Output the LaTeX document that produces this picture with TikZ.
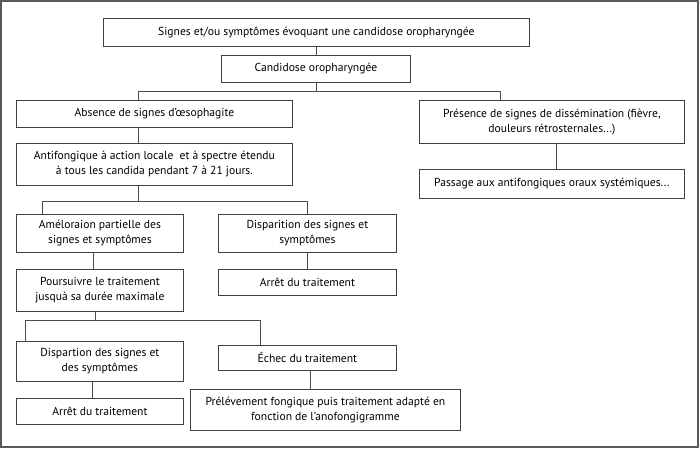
\documentclass[tikz,border=0pt]{standalone}
\usepackage{fontspec}
\setmainfont{PT Sans}
\begin{document}
\begin{tikzpicture}[x=1pt,y=-1pt,
  box/.style={draw=black!75, line width=0.8pt, inner sep=0pt, align=center, anchor=north west, font=\fontsize{11.6}{15}\selectfont},
  link/.style={draw=black!70, line width=0.8pt}]
\useasboundingbox (0,0) rectangle (700,449);
\draw[draw=black!65, line width=1.6pt] (1,1) rectangle (698,447);
\newcommand{\bx}[6]{\node[box, minimum width=#4-#2, minimum height=#5-#3] (#1) at (#2,#3) {#6};}
\bx{b1}{103}{18}{529}{46}{Signes et/ou symptômes évoquant une candidose oropharyngée}
\bx{b2}{221}{55}{410}{82}{Candidose oropharyngée}
\bx{b3}{16}{100}{292}{127}{Absence de signes d’œsophagite}
\bx{b4}{419}{100}{684}{143}{Présence de signes de dissémination (fièvre,\\douleurs rétrosternales...)}
\bx{b5}{16}{143}{292}{185}{Antifongique à action locale\ \ et à spectre étendu\\à tous les candida pendant 7 à 21 jours.}
\bx{b6}{419}{169}{684}{198}{Passage aux antifongiques oraux systémiques...}
\bx{b7}{16}{214}{183}{252}{Améloraion partielle des\\signes et symptômes}
\bx{b8}{218}{214}{396}{252}{Disparition des signes et\\symptômes}
\bx{b9}{16}{269}{183}{311}{Poursuivre le traitement\\jusquà sa durée maximale}
\bx{b10}{218}{269}{396}{295}{Arrêt du traitement}
\bx{b11}{16}{341}{183}{381}{Dispartion des signes et\\des symptômes}
\bx{b12}{218}{345}{396}{370}{Échec du traitement}
\bx{b13}{16}{398}{183}{424}{Arrêt du traitement}
\bx{b14}{190}{389}{460}{430}{Prélévement fongique puis traitement adapté en\\fonction de l’anofongigramme}
\coordinate (j1) at (316,91);
\coordinate (j1l) at (138,91);
\coordinate (j1r) at (500,91);
\coordinate (j2) at (138,201);
\coordinate (j2l) at (42,201);
\coordinate (j2r) at (307,201);
\coordinate (j3) at (95,320);
\coordinate (j3l) at (25,320);
\coordinate (j3r) at (260,320);
\draw[link] (b1.south -| j1) -- (b2.north -| j1);
\draw[link] (b2.south -| j1) -- (j1) (j1l) -- (j1r);
\draw[link] (j1l) -- (b3.north -| j1l);
\draw[link] (j1r) -- (b4.north -| j1r);
\draw[link] (b3.south -| j1l) -- (b5.north -| j1l);
\draw[link] (b4.south -| 556,0) -- (b6.north -| 556,0);
\draw[link] (b5.south -| j2) -- (j2) (j2l) -- (j2r);
\draw[link] (j2l) -- (b7.north -| j2l);
\draw[link] (j2r) -- (b8.north -| j2r);
\draw[link] (b7.south -| 93,0) -- (b9.north -| 93,0);
\draw[link] (b8.south -| j2r) -- (b10.north -| j2r);
\draw[link] (b9.south -| j3) -- (j3) (j3l) -- (j3r);
\draw[link] (j3l) -- (b11.north -| j3l);
\draw[link] (j3r) -- (b12.north -| j3r);
\draw[link] (b11.south -| 92,0) -- (b13.north -| 92,0);
\draw[link] (b12.south -| 310,0) -- (b14.north -| 310,0);
\end{tikzpicture}
\end{document}
